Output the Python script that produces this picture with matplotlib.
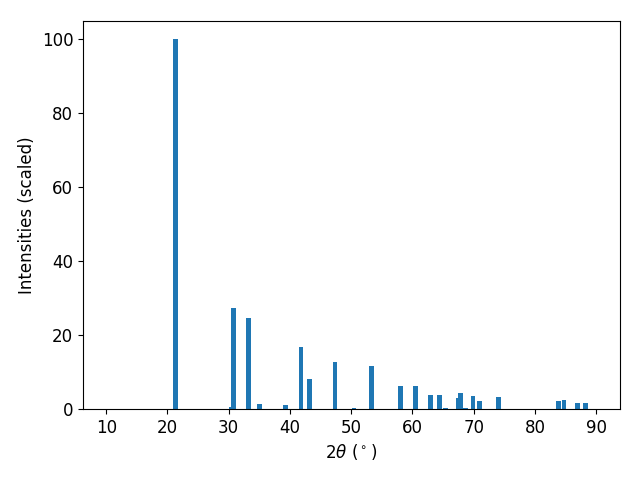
import matplotlib
matplotlib.use("Agg")
import matplotlib.pyplot as plt

two_theta = [21.3, 30.4, 30.8, 33.3, 35.0, 39.3, 41.8, 43.25, 47.35, 50.45,
             53.25, 58.0, 60.5, 62.95, 64.4, 65.4, 67.5, 67.8, 68.6, 69.9,
             71.0, 74.1, 83.9, 84.75, 86.9, 88.2]
intensity = [100, 0.5, 27.4, 24.7, 1.4, 1.1, 16.8, 8.1, 12.8, 0.3,
             11.7, 6.2, 6.2, 3.8, 3.8, 0.3, 3.0, 4.3, 0.3, 3.5,
             2.2, 3.3, 2.2, 2.4, 1.6, 1.6]

plt.rcParams['font.size'] = 12
fig, ax = plt.subplots(figsize=(6.4, 4.8), dpi=100)
ax.bar(two_theta, intensity, width=0.8, color='#1f77b4')
ax.set_xlim(6.2, 93.9)
ax.set_xticks([10, 20, 30, 40, 50, 60, 70, 80, 90])
ax.set_xlabel(r'$2\theta$ ($^\circ$)')
ax.set_ylabel('Intensities (scaled)')
fig.subplots_adjust(left=83/640, right=620/640, top=1-21/480, bottom=1-409/480)
fig.savefig('out.png')
